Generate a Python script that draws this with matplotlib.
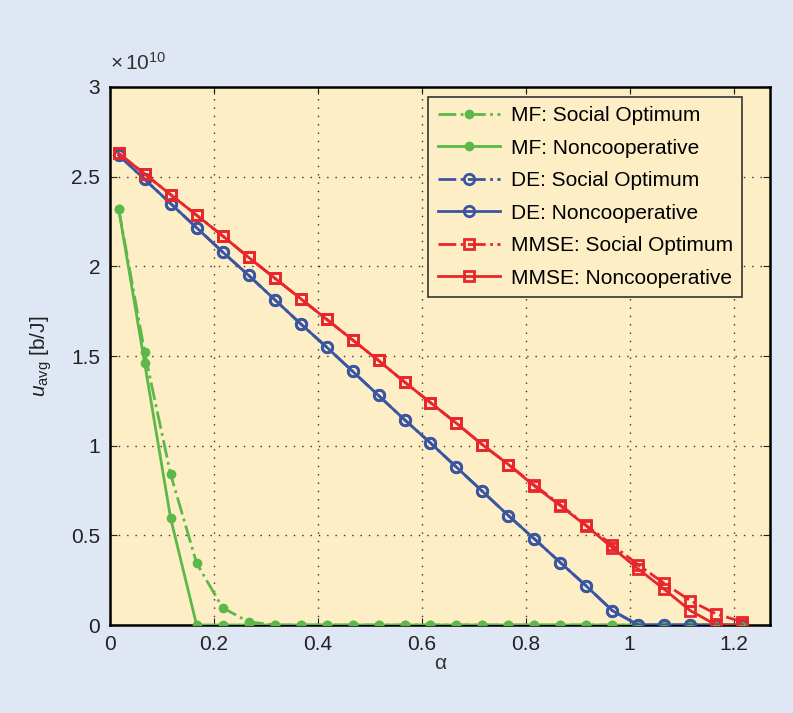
import matplotlib.pyplot as plt
import numpy as np

plt.rcParams['font.family'] = ['Liberation Sans', 'DejaVu Sans']
plt.rcParams['mathtext.fontset'] = 'custom'
plt.rcParams['mathtext.rm'] = 'Liberation Sans'
plt.rcParams['mathtext.it'] = 'Liberation Sans:italic'

# alpha values (x axis)
alpha = [0.0167, 0.0667, 0.1167, 0.1667, 0.2167, 0.2667, 0.3167, 0.3667, 0.4167,
         0.4667, 0.5167, 0.5667, 0.6167, 0.6667, 0.7167, 0.7667, 0.8167, 0.8667,
         0.9167, 0.9667, 1.0167, 1.0667, 1.1167, 1.1667, 1.2167]

# u_avg in units of 1e10 b/J
mf_social = [2.32, 1.52, 0.84, 0.345, 0.096, 0.018, 0, 0, 0, 0, 0, 0, 0, 0, 0, 0,
             0, 0, 0, 0, 0, 0, 0, 0, 0]
mf_nonco = [2.32, 1.46, 0.595, 0, 0, 0, 0, 0, 0, 0, 0, 0, 0, 0, 0, 0, 0, 0, 0, 0,
            0, 0, 0, 0, 0]
de_social = [2.62, 2.485, 2.35, 2.215, 2.08, 1.95, 1.815, 1.68, 1.55, 1.415, 1.28,
             1.145, 1.015, 0.88, 0.745, 0.61, 0.48, 0.348, 0.217, 0.08, 0, 0, 0, 0, 0]
de_nonco = [2.62, 2.485, 2.35, 2.215, 2.08, 1.95, 1.815, 1.68, 1.55, 1.415, 1.28,
            1.145, 1.015, 0.88, 0.745, 0.61, 0.48, 0.348, 0.217, 0.08, 0, 0, 0, 0, 0]
mmse_social = [2.63, 2.515, 2.40, 2.285, 2.17, 2.05, 1.935, 1.82, 1.705, 1.59, 1.475,
               1.355, 1.24, 1.125, 1.005, 0.895, 0.78, 0.67, 0.555, 0.446, 0.335,
               0.232, 0.136, 0.061, 0.018]
mmse_nonco = [2.63, 2.515, 2.40, 2.285, 2.17, 2.05, 1.935, 1.82, 1.705, 1.59, 1.475,
              1.355, 1.24, 1.125, 1.005, 0.895, 0.775, 0.665, 0.552, 0.431, 0.312,
              0.199, 0.08, 0, 0]

green = '#5cb848'
blue = '#3a55a3'
red = '#e8262d'

fig = plt.figure(figsize=(7.93, 7.13), dpi=100, facecolor='#dfe6f4')
ax = fig.add_axes([0.1387, 0.1234, 0.8323, 0.7546])
ax.set_facecolor('#fdeec6')

ax.plot(alpha, mf_social, linestyle='-.', color=green, lw=2, marker='o', ms=6,
        mfc=green, mec=green, label='MF: Social Optimum', zorder=3)
ax.plot(alpha, mf_nonco, linestyle='-', color=green, lw=2, marker='o', ms=6,
        mfc=green, mec=green, label='MF: Noncooperative', zorder=3)
ax.plot(alpha, de_social, linestyle='-.', color=blue, lw=2, marker='o', ms=7.5,
        mfc='none', mec=blue, mew=2, label='DE: Social Optimum', zorder=4)
ax.plot(alpha, de_nonco, linestyle='-', color=blue, lw=2, marker='o', ms=7.5,
        mfc='none', mec=blue, mew=2, label='DE: Noncooperative', zorder=4)
ax.plot(alpha, mmse_social, linestyle='-.', color=red, lw=2, marker='s', ms=7,
        mfc='none', mec=red, mew=2, label='MMSE: Social Optimum', zorder=5)
ax.plot(alpha, mmse_nonco, linestyle='-', color=red, lw=2, marker='s', ms=7,
        mfc='none', mec=red, mew=2, label='MMSE: Noncooperative', zorder=5)

ax.set_xlim(0, 1.27)
ax.set_ylim(0, 3)
ax.set_xticks([0, 0.2, 0.4, 0.6, 0.8, 1, 1.2])
ax.set_xticklabels(['0', '0.2', '0.4', '0.6', '0.8', '1', '1.2'])
ax.set_yticks([0, 0.5, 1, 1.5, 2, 2.5, 3])
ax.set_yticklabels(['0', '0.5', '1', '1.5', '2', '2.5', '3'])
ax.tick_params(direction='in', top=True, right=True, labelsize=15, length=5,
               pad=7, colors='#222222')
ax.grid(True, linestyle=(0, (1, 5)), color='#333333', lw=1)
for s in ax.spines.values():
    s.set_linewidth(1.8)
    s.set_color('black')

ax.set_xlabel('α', fontsize=15, labelpad=0, color='#333333')
ax.set_ylabel(r'$u_{\mathrm{avg}}$ [b/J]', fontsize=15, labelpad=12, color='#222222')
ax.text(0.0, 1.025, r'$\times\,10^{10}$', transform=ax.transAxes, fontsize=15,
        color='#333333', ha='left', va='bottom')

leg = ax.legend(loc='upper right', bbox_to_anchor=(0.958, 0.982), fontsize=15,
                frameon=True, fancybox=False, edgecolor='#333333',
                facecolor='#fdeec6', framealpha=1, handlelength=3.0,
                handletextpad=0.5, labelspacing=0.65, borderpad=0.45,
                borderaxespad=0)
leg.get_frame().set_linewidth(1.2)

fig.savefig('out.png', dpi=100, facecolor=fig.get_facecolor())
